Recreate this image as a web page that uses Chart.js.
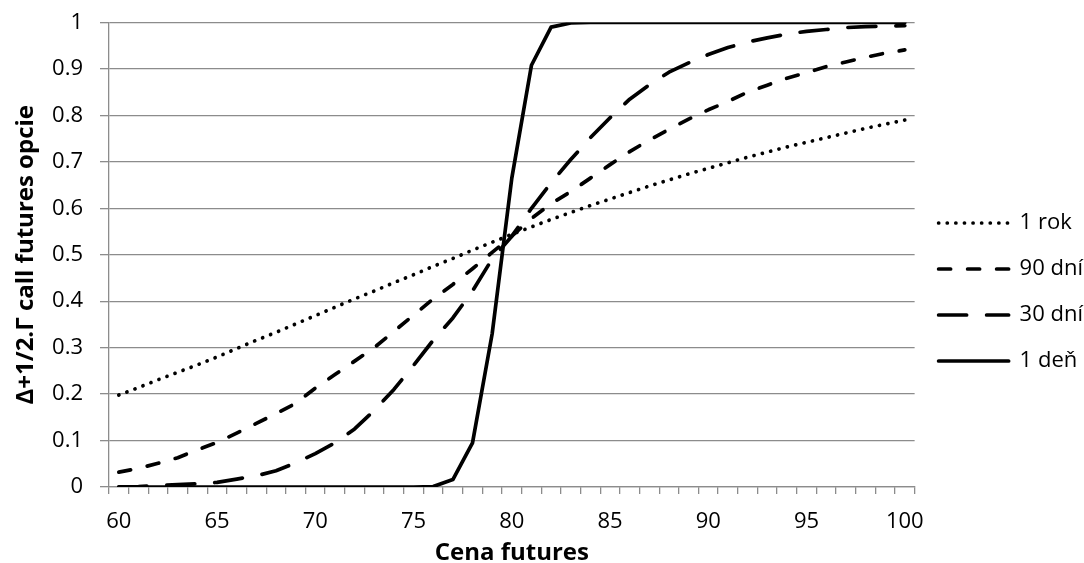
<!DOCTYPE html>
<html>
<head>
<meta charset="utf-8">
<script src="https://cdn.jsdelivr.net/npm/chart.js@4"></script>
<style>
  body { margin: 0; background: #fff; }
  #wrap { width: 1084px; height: 563px; }
</style>
</head>
<body>
<div id="wrap"><canvas id="c"></canvas></div>
<script>
// Cena futures 60..100
var prices = [60,61,62,63,64,65,66,67,68,69,70,71,72,73,74,75,76,77,78,79,80,
              81,82,83,84,85,86,87,88,89,90,91,92,93,94,95,96,97,98,99,100];

var rok1 = [0.198,0.214,0.231,0.247,0.263,0.280,0.298,0.316,0.333,0.351,0.369,
            0.387,0.405,0.422,0.440,0.457,0.475,0.492,0.510,0.527,0.544,
            0.560,0.576,0.591,0.606,0.620,0.634,0.648,0.661,0.674,0.686,
            0.698,0.710,0.721,0.732,0.742,0.752,0.762,0.772,0.781,0.790];

var dni90 = [0.032,0.040,0.051,0.063,0.080,0.096,0.116,0.137,0.158,0.180,0.213,
             0.242,0.271,0.300,0.335,0.370,0.405,0.436,0.470,0.505,0.540,
             0.578,0.610,0.636,0.665,0.694,0.722,0.747,0.770,0.792,0.812,
             0.830,0.850,0.865,0.880,0.892,0.905,0.915,0.925,0.934,0.941];

var dni30 = [0.0005,0.001,0.003,0.005,0.007,0.010,0.017,0.024,0.035,0.052,0.072,
             0.095,0.125,0.165,0.210,0.262,0.316,0.364,0.422,0.491,0.540,
             0.600,0.655,0.705,0.752,0.795,0.835,0.866,0.893,0.913,0.931,
             0.946,0.958,0.967,0.975,0.981,0.985,0.989,0.991,0.992,0.993];

var den1 = [0,0,0,0,0,0,0,0,0,0,0,
            0,0,0,0,0,0.001,0.016,0.095,0.330,0.665,
            0.908,0.990,0.999,1,1,1,1,1,1,1,
            1,1,1,1,1,1,1,1,1,1];

var seriesNames = ['1 rok', '90 dní', '30 dní', '1 deň'];
var yTicks = [0,0.1,0.2,0.3,0.4,0.5,0.6,0.7,0.8,0.9,1];

var fontFam = "'Open Sans', sans-serif";
var gridCol = '#8c8c8c';

function ds(label, data, dash) {
    return {
        label: label,
        data: data,
        borderColor: '#000',
        backgroundColor: '#000',
        borderWidth: 3.7,
        borderDash: dash,
        borderCapStyle: 'round',
        borderJoinStyle: 'round',
        pointRadius: 0,
        tension: 0,
        fill: false
    };
}

var ctx = document.getElementById('c').getContext('2d');
var chart = new Chart(ctx, {
    type: 'line',
    data: {
        labels: prices,
        datasets: [
            ds(seriesNames[0], rok1, [0.1, 8.5]),
            ds(seriesNames[1], dni90, [12, 17]),
            ds(seriesNames[2], dni30, [28, 20]),
            ds(seriesNames[3], den1, [])
        ]
    },
    options: {
        responsive: true,
        maintainAspectRatio: false,
        animation: false,
        layout: { padding: { top: 1, right: -9, left: 0, bottom: 0 } },
        plugins: {
            tooltip: { enabled: false },
            legend: {
                position: 'right',
                title: { display: true, text: ' ', font: { size: 20, lineHeight: 1 }, padding: 0 },
                labels: {
                    usePointStyle: true,
                    pointStyle: 'line',
                    pointStyleWidth: 70,
                    boxHeight: 22,
                    padding: 24,
                    color: '#000',
                    font: { family: fontFam, size: 22 },
                    generateLabels: function (c) {
                        var items = Chart.defaults.plugins.legend.labels.generateLabels(c);
                        items.forEach(function (it) {
                            var d = c.data.datasets[it.datasetIndex];
                            it.lineDash = d.borderDash;
                            it.lineCap = 'round';
                            it.lineWidth = 3.7;
                            it.strokeStyle = '#000';
                            it.pointStyle = 'line';
                        });
                        return items;
                    }
                }
            }
        },
        scales: {
            x: {
                type: 'category',
                offset: true,
                afterFit: function (axis) { axis.height = 76; },
                grid: {
                    offset: true,
                    drawOnChartArea: false,
                    drawTicks: true,
                    tickLength: 7,
                    color: gridCol,
                    lineWidth: 1.3
                },
                border: { display: true, color: gridCol, width: 1.3 },
                ticks: {
                    autoSkip: false,
                    maxRotation: 0,
                    color: '#000',
                    font: { family: fontFam, size: 22 },
                    padding: 14.8,
                    callback: function (val, i) {
                        var p = prices[i];
                        return p % 5 === 0 ? String(p) : '';
                    }
                },
                title: {
                    display: true,
                    text: 'Cena futures',
                    color: '#000',
                    font: { family: fontFam, size: 24, weight: 'bold', lineHeight: 0.8 },
                    padding: { top: 0, bottom: 0 }
                }
            },
            y: {
                min: 0,
                max: 1,
                afterBuildTicks: function (axis) {
                    axis.ticks = yTicks.map(function (v) { return { value: v }; });
                },
                afterFit: function (axis) { axis.width = 109; },
                grid: {
                    color: gridCol,
                    lineWidth: 1.3,
                    tickLength: 9
                },
                border: { display: true, color: gridCol, width: 1.3 },
                ticks: {
                    color: '#000',
                    font: { family: fontFam, size: 22, lineHeight: 0.5 },
                    padding: 17,
                    callback: function (v) { return String(Math.round(v * 10) / 10); }
                },
                title: {
                    display: true,
                    text: 'Δ+1/2.Γ call futures opcie',
                    color: '#000',
                    font: { family: fontFam, size: 24, weight: 'bold' },
                    padding: { top: 12, bottom: 0 }
                }
            }
        }
    }
});
</script>
</body>
</html>
